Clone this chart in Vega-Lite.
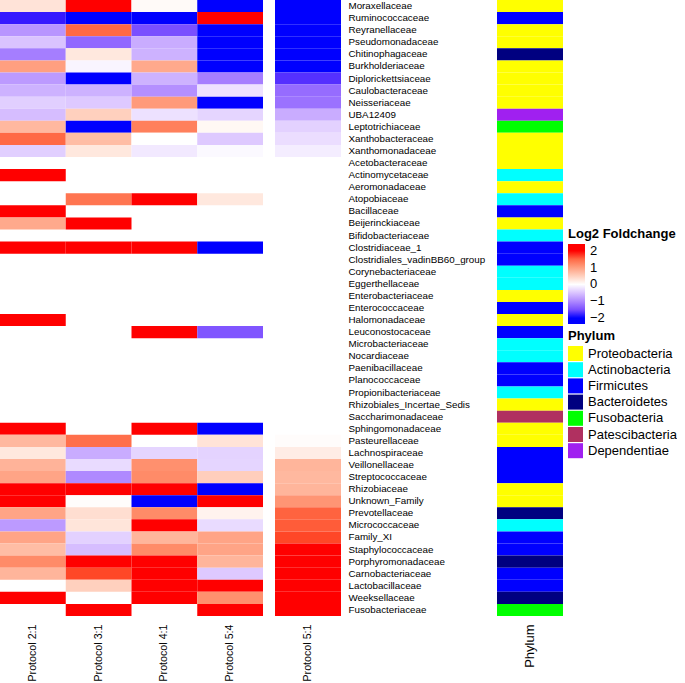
{
  "$schema": "https://vega.github.io/schema/vega-lite/v6.json",
  "padding": 0,
  "background": "white",
  "spacing": 12,
  "config": {
    "view": {"stroke": null},
    "font": "Liberation Sans",
    "axis": {"domain": false, "ticks": false, "grid": false, "labelColor": "#000000"},
    "legend": {"labelColor": "#000000", "titleColor": "#000000"}
  },
  "datasets": {
    "heat": [
      {"family": "Moraxellaceae", "protocol": "Protocol 2:1", "value": 0.3},
      {"family": "Moraxellaceae", "protocol": "Protocol 3:1", "value": 2.3},
      {"family": "Moraxellaceae", "protocol": "Protocol 4:1", "value": 0.05},
      {"family": "Moraxellaceae", "protocol": "Protocol 5:4", "value": -2.3},
      {"family": "Moraxellaceae", "protocol": "Protocol 5:1", "value": -2.3},
      {"family": "Ruminococcaceae", "protocol": "Protocol 2:1", "value": -1.9},
      {"family": "Ruminococcaceae", "protocol": "Protocol 3:1", "value": -2.3},
      {"family": "Ruminococcaceae", "protocol": "Protocol 4:1", "value": -2.0},
      {"family": "Ruminococcaceae", "protocol": "Protocol 5:4", "value": 2.3},
      {"family": "Ruminococcaceae", "protocol": "Protocol 5:1", "value": -2.3},
      {"family": "Reyranellaceae", "protocol": "Protocol 2:1", "value": -0.9},
      {"family": "Reyranellaceae", "protocol": "Protocol 3:1", "value": 1.5},
      {"family": "Reyranellaceae", "protocol": "Protocol 4:1", "value": -1.5},
      {"family": "Reyranellaceae", "protocol": "Protocol 5:4", "value": -2.3},
      {"family": "Reyranellaceae", "protocol": "Protocol 5:1", "value": -2.3},
      {"family": "Pseudomonadaceae", "protocol": "Protocol 2:1", "value": -0.5},
      {"family": "Pseudomonadaceae", "protocol": "Protocol 3:1", "value": -1.3},
      {"family": "Pseudomonadaceae", "protocol": "Protocol 4:1", "value": -0.7},
      {"family": "Pseudomonadaceae", "protocol": "Protocol 5:4", "value": -2.3},
      {"family": "Pseudomonadaceae", "protocol": "Protocol 5:1", "value": -2.3},
      {"family": "Chitinophagaceae", "protocol": "Protocol 2:1", "value": -1.1},
      {"family": "Chitinophagaceae", "protocol": "Protocol 3:1", "value": 0.25},
      {"family": "Chitinophagaceae", "protocol": "Protocol 4:1", "value": -0.65},
      {"family": "Chitinophagaceae", "protocol": "Protocol 5:4", "value": -2.3},
      {"family": "Chitinophagaceae", "protocol": "Protocol 5:1", "value": -2.3},
      {"family": "Burkholderiaceae", "protocol": "Protocol 2:1", "value": 1.0},
      {"family": "Burkholderiaceae", "protocol": "Protocol 3:1", "value": -0.08},
      {"family": "Burkholderiaceae", "protocol": "Protocol 4:1", "value": 0.9},
      {"family": "Burkholderiaceae", "protocol": "Protocol 5:4", "value": -2.3},
      {"family": "Burkholderiaceae", "protocol": "Protocol 5:1", "value": -2.3},
      {"family": "Diplorickettsiaceae", "protocol": "Protocol 2:1", "value": -0.85},
      {"family": "Diplorickettsiaceae", "protocol": "Protocol 3:1", "value": -2.3},
      {"family": "Diplorickettsiaceae", "protocol": "Protocol 4:1", "value": -0.65},
      {"family": "Diplorickettsiaceae", "protocol": "Protocol 5:4", "value": -1.1},
      {"family": "Diplorickettsiaceae", "protocol": "Protocol 5:1", "value": -1.75},
      {"family": "Caulobacteraceae", "protocol": "Protocol 2:1", "value": -0.65},
      {"family": "Caulobacteraceae", "protocol": "Protocol 3:1", "value": -0.65},
      {"family": "Caulobacteraceae", "protocol": "Protocol 4:1", "value": -0.95},
      {"family": "Caulobacteraceae", "protocol": "Protocol 5:4", "value": -0.25},
      {"family": "Caulobacteraceae", "protocol": "Protocol 5:1", "value": -1.25},
      {"family": "Neisseriaceae", "protocol": "Protocol 2:1", "value": -0.4},
      {"family": "Neisseriaceae", "protocol": "Protocol 3:1", "value": -0.45},
      {"family": "Neisseriaceae", "protocol": "Protocol 4:1", "value": 1.05},
      {"family": "Neisseriaceae", "protocol": "Protocol 5:4", "value": -2.3},
      {"family": "Neisseriaceae", "protocol": "Protocol 5:1", "value": -1.2},
      {"family": "UBA12409", "protocol": "Protocol 2:1", "value": -0.55},
      {"family": "UBA12409", "protocol": "Protocol 3:1", "value": 0.5},
      {"family": "UBA12409", "protocol": "Protocol 4:1", "value": -0.25},
      {"family": "UBA12409", "protocol": "Protocol 5:4", "value": -0.35},
      {"family": "UBA12409", "protocol": "Protocol 5:1", "value": -0.7},
      {"family": "Leptotrichiaceae", "protocol": "Protocol 2:1", "value": 0.75},
      {"family": "Leptotrichiaceae", "protocol": "Protocol 3:1", "value": -2.3},
      {"family": "Leptotrichiaceae", "protocol": "Protocol 4:1", "value": 1.3},
      {"family": "Leptotrichiaceae", "protocol": "Protocol 5:4", "value": 0.08},
      {"family": "Leptotrichiaceae", "protocol": "Protocol 5:1", "value": -0.38},
      {"family": "Xanthobacteraceae", "protocol": "Protocol 2:1", "value": 1.5},
      {"family": "Xanthobacteraceae", "protocol": "Protocol 3:1", "value": 0.7},
      {"family": "Xanthobacteraceae", "protocol": "Protocol 4:1", "value": 0.0},
      {"family": "Xanthobacteraceae", "protocol": "Protocol 5:4", "value": -0.45},
      {"family": "Xanthobacteraceae", "protocol": "Protocol 5:1", "value": -0.28},
      {"family": "Xanthomonadaceae", "protocol": "Protocol 2:1", "value": -0.4},
      {"family": "Xanthomonadaceae", "protocol": "Protocol 3:1", "value": 0.25},
      {"family": "Xanthomonadaceae", "protocol": "Protocol 4:1", "value": -0.18},
      {"family": "Xanthomonadaceae", "protocol": "Protocol 5:4", "value": -0.05},
      {"family": "Xanthomonadaceae", "protocol": "Protocol 5:1", "value": -0.15},
      {"family": "Actinomycetaceae", "protocol": "Protocol 2:1", "value": 2.3},
      {"family": "Atopobiaceae", "protocol": "Protocol 3:1", "value": 1.4},
      {"family": "Atopobiaceae", "protocol": "Protocol 4:1", "value": 2.3},
      {"family": "Atopobiaceae", "protocol": "Protocol 5:4", "value": 0.25},
      {"family": "Bacillaceae", "protocol": "Protocol 2:1", "value": 2.3},
      {"family": "Beijerinckiaceae", "protocol": "Protocol 2:1", "value": 0.9},
      {"family": "Beijerinckiaceae", "protocol": "Protocol 3:1", "value": 2.3},
      {"family": "Clostridiaceae_1", "protocol": "Protocol 2:1", "value": 2.3},
      {"family": "Clostridiaceae_1", "protocol": "Protocol 3:1", "value": 2.0},
      {"family": "Clostridiaceae_1", "protocol": "Protocol 4:1", "value": 2.3},
      {"family": "Clostridiaceae_1", "protocol": "Protocol 5:4", "value": -2.3},
      {"family": "Halomonadaceae", "protocol": "Protocol 2:1", "value": 2.3},
      {"family": "Leuconostocaceae", "protocol": "Protocol 4:1", "value": 2.3},
      {"family": "Leuconostocaceae", "protocol": "Protocol 5:4", "value": -1.45},
      {"family": "Sphingomonadaceae", "protocol": "Protocol 2:1", "value": 2.05},
      {"family": "Sphingomonadaceae", "protocol": "Protocol 4:1", "value": 2.3},
      {"family": "Sphingomonadaceae", "protocol": "Protocol 5:4", "value": -2.3},
      {"family": "Pasteurellaceae", "protocol": "Protocol 2:1", "value": 0.75},
      {"family": "Pasteurellaceae", "protocol": "Protocol 3:1", "value": 1.45},
      {"family": "Pasteurellaceae", "protocol": "Protocol 5:4", "value": 0.3},
      {"family": "Pasteurellaceae", "protocol": "Protocol 5:1", "value": 0.03},
      {"family": "Lachnospiraceae", "protocol": "Protocol 2:1", "value": 0.25},
      {"family": "Lachnospiraceae", "protocol": "Protocol 3:1", "value": -0.7},
      {"family": "Lachnospiraceae", "protocol": "Protocol 4:1", "value": -0.35},
      {"family": "Lachnospiraceae", "protocol": "Protocol 5:4", "value": -0.37},
      {"family": "Lachnospiraceae", "protocol": "Protocol 5:1", "value": 0.2},
      {"family": "Veillonellaceae", "protocol": "Protocol 2:1", "value": 0.8},
      {"family": "Veillonellaceae", "protocol": "Protocol 3:1", "value": -0.3},
      {"family": "Veillonellaceae", "protocol": "Protocol 4:1", "value": 1.15},
      {"family": "Veillonellaceae", "protocol": "Protocol 5:4", "value": -0.35},
      {"family": "Veillonellaceae", "protocol": "Protocol 5:1", "value": 0.78},
      {"family": "Streptococcaceae", "protocol": "Protocol 2:1", "value": 0.95},
      {"family": "Streptococcaceae", "protocol": "Protocol 3:1", "value": -1.0},
      {"family": "Streptococcaceae", "protocol": "Protocol 4:1", "value": 1.2},
      {"family": "Streptococcaceae", "protocol": "Protocol 5:4", "value": 0.52},
      {"family": "Streptococcaceae", "protocol": "Protocol 5:1", "value": 0.75},
      {"family": "Rhizobiaceae", "protocol": "Protocol 2:1", "value": 2.3},
      {"family": "Rhizobiaceae", "protocol": "Protocol 3:1", "value": 2.3},
      {"family": "Rhizobiaceae", "protocol": "Protocol 4:1", "value": 2.1},
      {"family": "Rhizobiaceae", "protocol": "Protocol 5:4", "value": -2.3},
      {"family": "Rhizobiaceae", "protocol": "Protocol 5:1", "value": 0.78},
      {"family": "Unknown_Family", "protocol": "Protocol 2:1", "value": 2.3},
      {"family": "Unknown_Family", "protocol": "Protocol 3:1", "value": 0.03},
      {"family": "Unknown_Family", "protocol": "Protocol 4:1", "value": -2.3},
      {"family": "Unknown_Family", "protocol": "Protocol 5:4", "value": 2.3},
      {"family": "Unknown_Family", "protocol": "Protocol 5:1", "value": 1.1},
      {"family": "Prevotellaceae", "protocol": "Protocol 2:1", "value": 0.95},
      {"family": "Prevotellaceae", "protocol": "Protocol 3:1", "value": 0.35},
      {"family": "Prevotellaceae", "protocol": "Protocol 4:1", "value": 1.2},
      {"family": "Prevotellaceae", "protocol": "Protocol 5:4", "value": 0.13},
      {"family": "Prevotellaceae", "protocol": "Protocol 5:1", "value": 1.55},
      {"family": "Micrococcaceae", "protocol": "Protocol 2:1", "value": -0.85},
      {"family": "Micrococcaceae", "protocol": "Protocol 3:1", "value": 0.28},
      {"family": "Micrococcaceae", "protocol": "Protocol 4:1", "value": 2.3},
      {"family": "Micrococcaceae", "protocol": "Protocol 5:4", "value": -0.3},
      {"family": "Micrococcaceae", "protocol": "Protocol 5:1", "value": 1.6},
      {"family": "Family_XI", "protocol": "Protocol 2:1", "value": 0.95},
      {"family": "Family_XI", "protocol": "Protocol 3:1", "value": -0.38},
      {"family": "Family_XI", "protocol": "Protocol 4:1", "value": 0.78},
      {"family": "Family_XI", "protocol": "Protocol 5:4", "value": 0.95},
      {"family": "Family_XI", "protocol": "Protocol 5:1", "value": 1.75},
      {"family": "Staphylococcaceae", "protocol": "Protocol 2:1", "value": 0.7},
      {"family": "Staphylococcaceae", "protocol": "Protocol 3:1", "value": -0.55},
      {"family": "Staphylococcaceae", "protocol": "Protocol 4:1", "value": 1.2},
      {"family": "Staphylococcaceae", "protocol": "Protocol 5:4", "value": 0.95},
      {"family": "Staphylococcaceae", "protocol": "Protocol 5:1", "value": 2.3},
      {"family": "Porphyromonadaceae", "protocol": "Protocol 2:1", "value": 1.2},
      {"family": "Porphyromonadaceae", "protocol": "Protocol 3:1", "value": 2.3},
      {"family": "Porphyromonadaceae", "protocol": "Protocol 4:1", "value": 2.2},
      {"family": "Porphyromonadaceae", "protocol": "Protocol 5:4", "value": 0.78},
      {"family": "Porphyromonadaceae", "protocol": "Protocol 5:1", "value": 2.3},
      {"family": "Carnobacteriaceae", "protocol": "Protocol 2:1", "value": 0.78},
      {"family": "Carnobacteriaceae", "protocol": "Protocol 3:1", "value": 1.75},
      {"family": "Carnobacteriaceae", "protocol": "Protocol 4:1", "value": 2.2},
      {"family": "Carnobacteriaceae", "protocol": "Protocol 5:4", "value": -0.45},
      {"family": "Carnobacteriaceae", "protocol": "Protocol 5:1", "value": 2.3},
      {"family": "Lactobacillaceae", "protocol": "Protocol 3:1", "value": 0.5},
      {"family": "Lactobacillaceae", "protocol": "Protocol 4:1", "value": 2.0},
      {"family": "Lactobacillaceae", "protocol": "Protocol 5:4", "value": 2.3},
      {"family": "Lactobacillaceae", "protocol": "Protocol 5:1", "value": 2.3},
      {"family": "Weeksellaceae", "protocol": "Protocol 2:1", "value": 2.3},
      {"family": "Weeksellaceae", "protocol": "Protocol 4:1", "value": 2.3},
      {"family": "Weeksellaceae", "protocol": "Protocol 5:4", "value": 1.15},
      {"family": "Weeksellaceae", "protocol": "Protocol 5:1", "value": 2.3},
      {"family": "Fusobacteriaceae", "protocol": "Protocol 3:1", "value": 2.3},
      {"family": "Fusobacteriaceae", "protocol": "Protocol 5:4", "value": 2.3},
      {"family": "Fusobacteriaceae", "protocol": "Protocol 5:1", "value": 2.3}
    ],
    "phylum": [
      {"family": "Moraxellaceae", "phylum": "Proteobacteria"},
      {"family": "Ruminococcaceae", "phylum": "Firmicutes"},
      {"family": "Reyranellaceae", "phylum": "Proteobacteria"},
      {"family": "Pseudomonadaceae", "phylum": "Proteobacteria"},
      {"family": "Chitinophagaceae", "phylum": "Bacteroidetes"},
      {"family": "Burkholderiaceae", "phylum": "Proteobacteria"},
      {"family": "Diplorickettsiaceae", "phylum": "Proteobacteria"},
      {"family": "Caulobacteraceae", "phylum": "Proteobacteria"},
      {"family": "Neisseriaceae", "phylum": "Proteobacteria"},
      {"family": "UBA12409", "phylum": "Dependentiae"},
      {"family": "Leptotrichiaceae", "phylum": "Fusobacteria"},
      {"family": "Xanthobacteraceae", "phylum": "Proteobacteria"},
      {"family": "Xanthomonadaceae", "phylum": "Proteobacteria"},
      {"family": "Acetobacteraceae", "phylum": "Proteobacteria"},
      {"family": "Actinomycetaceae", "phylum": "Actinobacteria"},
      {"family": "Aeromonadaceae", "phylum": "Proteobacteria"},
      {"family": "Atopobiaceae", "phylum": "Actinobacteria"},
      {"family": "Bacillaceae", "phylum": "Firmicutes"},
      {"family": "Beijerinckiaceae", "phylum": "Proteobacteria"},
      {"family": "Bifidobacteriaceae", "phylum": "Actinobacteria"},
      {"family": "Clostridiaceae_1", "phylum": "Firmicutes"},
      {"family": "Clostridiales_vadinBB60_group", "phylum": "Firmicutes"},
      {"family": "Corynebacteriaceae", "phylum": "Actinobacteria"},
      {"family": "Eggerthellaceae", "phylum": "Actinobacteria"},
      {"family": "Enterobacteriaceae", "phylum": "Proteobacteria"},
      {"family": "Enterococcaceae", "phylum": "Firmicutes"},
      {"family": "Halomonadaceae", "phylum": "Proteobacteria"},
      {"family": "Leuconostocaceae", "phylum": "Firmicutes"},
      {"family": "Microbacteriaceae", "phylum": "Actinobacteria"},
      {"family": "Nocardiaceae", "phylum": "Actinobacteria"},
      {"family": "Paenibacillaceae", "phylum": "Firmicutes"},
      {"family": "Planococcaceae", "phylum": "Firmicutes"},
      {"family": "Propionibacteriaceae", "phylum": "Actinobacteria"},
      {"family": "Rhizobiales_Incertae_Sedis", "phylum": "Proteobacteria"},
      {"family": "Saccharimonadaceae", "phylum": "Patescibacteria"},
      {"family": "Sphingomonadaceae", "phylum": "Proteobacteria"},
      {"family": "Pasteurellaceae", "phylum": "Proteobacteria"},
      {"family": "Lachnospiraceae", "phylum": "Firmicutes"},
      {"family": "Veillonellaceae", "phylum": "Firmicutes"},
      {"family": "Streptococcaceae", "phylum": "Firmicutes"},
      {"family": "Rhizobiaceae", "phylum": "Proteobacteria"},
      {"family": "Unknown_Family", "phylum": "Proteobacteria"},
      {"family": "Prevotellaceae", "phylum": "Bacteroidetes"},
      {"family": "Micrococcaceae", "phylum": "Actinobacteria"},
      {"family": "Family_XI", "phylum": "Firmicutes"},
      {"family": "Staphylococcaceae", "phylum": "Firmicutes"},
      {"family": "Porphyromonadaceae", "phylum": "Bacteroidetes"},
      {"family": "Carnobacteriaceae", "phylum": "Firmicutes"},
      {"family": "Lactobacillaceae", "phylum": "Firmicutes"},
      {"family": "Weeksellaceae", "phylum": "Bacteroidetes"},
      {"family": "Fusobacteriaceae", "phylum": "Fusobacteria"}
    ]
  },
  "hconcat": [
    {
      "width": 263,
      "height": 616,
      "data": {"name": "heat"},
      "transform": [{"filter": "datum.protocol != 'Protocol 5:1'"}],
      "mark": {"type": "rect", "strokeWidth": 0},
      "encoding": {
        "x": {"field": "protocol", "type": "nominal", "title": null,
              "scale": {"domain": ["Protocol 2:1", "Protocol 3:1", "Protocol 4:1", "Protocol 5:4"], "paddingInner": 0, "paddingOuter": 0},
              "axis": {"orient": "bottom", "labelAngle": -90, "labelFontSize": 10.7, "labelPadding": 8}},
        "y": {"field": "family", "type": "nominal", "title": null,
              "scale": {"domain": ["Moraxellaceae","Ruminococcaceae","Reyranellaceae","Pseudomonadaceae","Chitinophagaceae","Burkholderiaceae","Diplorickettsiaceae","Caulobacteraceae","Neisseriaceae","UBA12409","Leptotrichiaceae","Xanthobacteraceae","Xanthomonadaceae","Acetobacteraceae","Actinomycetaceae","Aeromonadaceae","Atopobiaceae","Bacillaceae","Beijerinckiaceae","Bifidobacteriaceae","Clostridiaceae_1","Clostridiales_vadinBB60_group","Corynebacteriaceae","Eggerthellaceae","Enterobacteriaceae","Enterococcaceae","Halomonadaceae","Leuconostocaceae","Microbacteriaceae","Nocardiaceae","Paenibacillaceae","Planococcaceae","Propionibacteriaceae","Rhizobiales_Incertae_Sedis","Saccharimonadaceae","Sphingomonadaceae","Pasteurellaceae","Lachnospiraceae","Veillonellaceae","Streptococcaceae","Rhizobiaceae","Unknown_Family","Prevotellaceae","Micrococcaceae","Family_XI","Staphylococcaceae","Porphyromonadaceae","Carnobacteriaceae","Lactobacillaceae","Weeksellaceae","Fusobacteriaceae"], "paddingInner": 0, "paddingOuter": 0},
              "axis": null},
        "color": {"field": "value", "type": "quantitative", "title": "Log2 Foldchange",
                  "scale": {"type": "linear", "domain": [-2.35, -2, 0, 2, 2.4], "range": ["#0000ff", "#0000ff", "#ffffff", "#ff0000", "#ff0000"], "interpolate": "lab", "clamp": true},
                  "legend": {"orient": "none", "legendX": 568, "legendY": 228, "direction": "vertical", "values": [-2, -1, 0, 1, 2], "gradientLength": 80, "gradientThickness": 17, "gradientStrokeWidth": 0, "titleFontSize": 13, "titleFontWeight": "bold", "titlePadding": 3, "labelFontSize": 13, "labelOffset": 5, "labelOverlap": false}}
      }
    },
    {
      "width": 66,
      "height": 616,
      "data": {"name": "heat"},
      "transform": [{"filter": "datum.protocol == 'Protocol 5:1'"}],
      "mark": {"type": "rect", "strokeWidth": 0},
      "encoding": {
        "x": {"field": "protocol", "type": "nominal", "title": null,
              "scale": {"domain": ["Protocol 5:1"], "paddingInner": 0, "paddingOuter": 0},
              "axis": {"orient": "bottom", "labelAngle": -90, "labelFontSize": 10.7, "labelPadding": 8}},
        "y": {"field": "family", "type": "nominal", "title": null,
              "scale": {"domain": ["Moraxellaceae","Ruminococcaceae","Reyranellaceae","Pseudomonadaceae","Chitinophagaceae","Burkholderiaceae","Diplorickettsiaceae","Caulobacteraceae","Neisseriaceae","UBA12409","Leptotrichiaceae","Xanthobacteraceae","Xanthomonadaceae","Acetobacteraceae","Actinomycetaceae","Aeromonadaceae","Atopobiaceae","Bacillaceae","Beijerinckiaceae","Bifidobacteriaceae","Clostridiaceae_1","Clostridiales_vadinBB60_group","Corynebacteriaceae","Eggerthellaceae","Enterobacteriaceae","Enterococcaceae","Halomonadaceae","Leuconostocaceae","Microbacteriaceae","Nocardiaceae","Paenibacillaceae","Planococcaceae","Propionibacteriaceae","Rhizobiales_Incertae_Sedis","Saccharimonadaceae","Sphingomonadaceae","Pasteurellaceae","Lachnospiraceae","Veillonellaceae","Streptococcaceae","Rhizobiaceae","Unknown_Family","Prevotellaceae","Micrococcaceae","Family_XI","Staphylococcaceae","Porphyromonadaceae","Carnobacteriaceae","Lactobacillaceae","Weeksellaceae","Fusobacteriaceae"], "paddingInner": 0, "paddingOuter": 0},
              "axis": {"orient": "right", "labelFontSize": 9.8, "labelPadding": 7}},
        "color": {"field": "value", "type": "quantitative", "title": "Log2 Foldchange",
                  "scale": {"type": "linear", "domain": [-2.35, -2, 0, 2, 2.4], "range": ["#0000ff", "#0000ff", "#ffffff", "#ff0000", "#ff0000"], "interpolate": "lab", "clamp": true},
                  "legend": {"orient": "none", "legendX": 568, "legendY": 228, "direction": "vertical", "values": [-2, -1, 0, 1, 2], "gradientLength": 80, "gradientThickness": 17, "gradientStrokeWidth": 0, "titleFontSize": 13, "titleFontWeight": "bold", "titlePadding": 3, "labelFontSize": 13, "labelOffset": 5, "labelOverlap": false}}
      }
    },
    {
      "width": 66,
      "height": 616,
      "data": {"name": "phylum"},
      "mark": {"type": "rect", "strokeWidth": 0},
      "encoding": {
        "x": {"datum": "Phylum", "type": "nominal", "title": null,
              "scale": {"paddingInner": 0, "paddingOuter": 0},
              "axis": {"orient": "bottom", "labelAngle": -90, "labelFontSize": 13, "labelPadding": 8}},
        "y": {"field": "family", "type": "nominal", "title": null,
              "scale": {"domain": ["Moraxellaceae","Ruminococcaceae","Reyranellaceae","Pseudomonadaceae","Chitinophagaceae","Burkholderiaceae","Diplorickettsiaceae","Caulobacteraceae","Neisseriaceae","UBA12409","Leptotrichiaceae","Xanthobacteraceae","Xanthomonadaceae","Acetobacteraceae","Actinomycetaceae","Aeromonadaceae","Atopobiaceae","Bacillaceae","Beijerinckiaceae","Bifidobacteriaceae","Clostridiaceae_1","Clostridiales_vadinBB60_group","Corynebacteriaceae","Eggerthellaceae","Enterobacteriaceae","Enterococcaceae","Halomonadaceae","Leuconostocaceae","Microbacteriaceae","Nocardiaceae","Paenibacillaceae","Planococcaceae","Propionibacteriaceae","Rhizobiales_Incertae_Sedis","Saccharimonadaceae","Sphingomonadaceae","Pasteurellaceae","Lachnospiraceae","Veillonellaceae","Streptococcaceae","Rhizobiaceae","Unknown_Family","Prevotellaceae","Micrococcaceae","Family_XI","Staphylococcaceae","Porphyromonadaceae","Carnobacteriaceae","Lactobacillaceae","Weeksellaceae","Fusobacteriaceae"], "paddingInner": 0, "paddingOuter": 0},
              "axis": null},
        "fill": {"field": "phylum", "type": "nominal", "title": "Phylum",
                 "scale": {"domain": ["Proteobacteria", "Actinobacteria", "Firmicutes", "Bacteroidetes", "Fusobacteria", "Patescibacteria", "Dependentiae"],
                           "range": ["#ffff00", "#00ffff", "#0000ff", "#000080", "#00ff00", "#b03060", "#a020f0"]},
                 "legend": {"orient": "none", "legendX": 568, "legendY": 330, "direction": "vertical", "symbolType": "square", "symbolSize": 225, "symbolStrokeWidth": 0, "symbolOpacity": 1, "titleFontSize": 13, "titleFontWeight": "bold", "titlePadding": 3, "labelFontSize": 13, "labelOffset": 5, "rowPadding": 1.2}}
      }
    }
  ]
}
